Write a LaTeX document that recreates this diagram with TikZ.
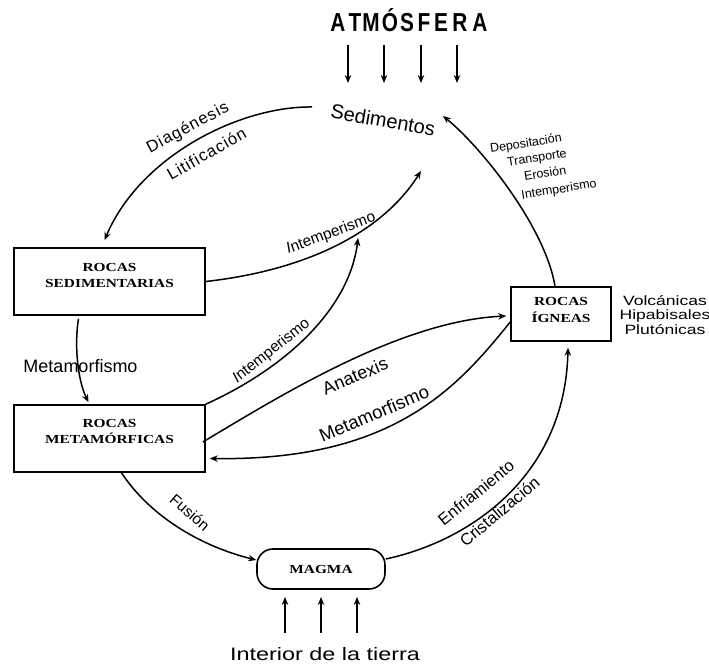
\documentclass[tikz,border=0pt]{standalone}
\usepackage{fontspec}
\setmainfont{Liberation Sans}
\newfontfamily\sfw[FakeStretch=1.3]{Liberation Sans}
\newfontfamily\sfsp[LetterSpace=6]{Liberation Sans}
\newfontfamily\boxf[FakeStretch=1.25]{Liberation Serif}
\newfontfamily\atmf[FakeStretch=0.8]{Liberation Sans}
\usetikzlibrary{arrows.meta}
\begin{document}
\begin{tikzpicture}[x=1pt,y=1pt,
  rockbox/.style={draw, line width=1.6pt, minimum width=191pt, minimum height=67pt, inner sep=0pt},
  boxtxt/.style={align=center, inner sep=0pt, font=\boxf\bfseries\fontsize{12.3}{16.5}\selectfont},
  conn/.style={line width=1.5pt, -{Stealth[length=8pt,width=6.5pt]}},
  lbl/.style={inner sep=0pt},
  atm/.style={inner sep=0pt, anchor=base, font=\atmf\bfseries\fontsize{26}{26}\selectfont}
]
\useasboundingbox (0,0) rectangle (709,666);

% Rock boxes
\node[rockbox] (sed) at (109.5,384.5) {};
\node[boxtxt] (sedt) at ([yshift=6pt]sed.center) {ROCAS\\SEDIMENTARIAS};
\node[rockbox] (met) at (109.5,227.5) {};
\node[boxtxt] (mett) at ([yshift=7pt]met.center) {ROCAS\\METAMÓRFICAS};
\node[rockbox, minimum width=100pt, minimum height=54pt] (ign) at (561,352) {};
\node[boxtxt] (ignt) at ([yshift=4pt]ign.center) {ROCAS\\ÍGNEAS};
\node[draw, line width=1.6pt, rounded corners=16pt, minimum width=128pt, minimum height=40pt,
  font=\boxf\bfseries\fontsize{12.3}{15}\selectfont] (magma) at (321,97) {MAGMA};

% Sedimentos
\node[lbl, rotate=-10, font=\fontsize{20}{20}\selectfont] (sedi) at (383,546) {Sedimentos};

% Atmosfera
\node[atm] (a1) at (338,634) {A};
\node[atm] (a2) at (355,634) {T};
\node[atm] (a3) at (371,634) {M};
\node[atm] (a4) at (390,634) {Ó};
\node[atm] (a5) at (407,634) {S};
\node[atm] (a6) at (424,634) {F};
\node[atm] (a7) at (441,634) {E};
\node[atm] (a8) at (460,634) {R};
\node[atm] (a9) at (480,634) {A};
\foreach \i/\x in {1/348,2/384,3/421,4/457}{
  \coordinate (at\i) at (\x,621);
  \coordinate (ab\i) at (\x,583);
  \draw[conn] (at\i) -- (ab\i);
}

% Interior de la tierra
\node[lbl, anchor=base, font=\sfw\fontsize{18}{18}\selectfont] (inter) at (325,5) {Interior de la tierra};
\foreach \i/\x in {1/285,2/321,3/357}{
  \coordinate (mb\i) at (\x,33);
  \coordinate (mt\i) at (\x,69);
  \draw[conn] (mb\i) -- (mt\i);
}

% Igneous types
\node[lbl, align=center, font=\sfw\fontsize{13.5}{14.5}\selectfont] (types) at (665,351) {Volcánicas\\Hipabisales\\Plutónicas};

% Connector end points near Sedimentos
\coordinate (sedL) at (312,559);
\coordinate (sedR) at (443,550);
\coordinate (sedB1) at (421,495);
\coordinate (sedB2) at (358,428);

% Diagenesis
\draw[conn] (sedL) .. controls (240,560) and (140,510) .. ([xshift=-5pt,yshift=7pt]sed.north);
\node[lbl, rotate=28, font=\sfsp\fontsize{16.5}{16.5}\selectfont] (diag) at (188,538) {Diagénesis};
\node[lbl, rotate=29.5, font=\sfsp\fontsize{16.5}{16.5}\selectfont] (liti) at (206.5,512.5) {Litificación};

% Igneas -> Sedimentos
\draw[conn] ([xshift=-6pt]ign.north) .. controls (545,440) and (480,520) .. (sedR);
\node[lbl, rotate=9, font=\fontsize{12.5}{12.5}\selectfont] (dep) at (526,522) {Depositación};
\node[lbl, rotate=9, font=\fontsize{12.5}{12.5}\selectfont] (tra) at (537,507) {Transporte};
\node[lbl, rotate=9, font=\fontsize{12.5}{12.5}\selectfont] (ero) at (545,493) {Erosión};
\node[lbl, rotate=9, font=\fontsize{12.5}{12.5}\selectfont] (int0) at (559,476) {Intemperismo};

% Sed -> Sedimentos
\draw[conn] (sed.east) .. controls (300,395) and (380,430) .. (sedB1);
\node[lbl, rotate=20.6, font=\fontsize{15.5}{15.5}\selectfont] (int1) at (331,432.5) {{\itshape I}ntemperismo};

% Met -> Sedimentos
\draw[conn] (met.north east) .. controls (290,300) and (350,360) .. (sedB2);
\node[lbl, rotate=38.5, font=\fontsize{15.5}{15.5}\selectfont] (int2) at (271.5,315) {{\itshape I}ntemperismo};

% Sed -> Met
\draw[conn] ([xshift=-31pt,yshift=-3pt]sed.south) .. controls (74,320) and (78,285) .. ([xshift=-21pt,yshift=2pt]met.north);
\node[lbl, anchor=base, font=\fontsize{18}{18}\selectfont] (meta1) at (80.5,293) {Metamorfismo};

% Anatexis
\draw[conn] ([xshift=-3pt,yshift=-3.5pt]met.east) .. controls (280,270) and (400,345) .. ([xshift=-4pt,yshift=-2pt]ign.west);
\node[lbl, rotate=23, font=\fontsize{18}{18}\selectfont] (anat) at (355,290) {Anatexis};

% Ign -> Met (Metamorfismo)
\draw[conn] ([yshift=-8pt]ign.west) .. controls (455,275) and (390,205) .. ([xshift=4pt,yshift=-20pt]met.east);
\node[lbl, rotate=22.8, font=\fontsize{18.5}{18.5}\selectfont] (meta2) at (374,252.5) {Metamorfismo};

% Fusion
\draw[conn] ([xshift=12pt]met.south) .. controls (150,150) and (200,120) .. ([yshift=9pt]magma.west);
\node[lbl, rotate=-40.7, font=\fontsize{15.5}{15.5}\selectfont] (fus) at (190,153.5) {Fusión};

% Enfriamiento
\draw[conn] ([yshift=10pt]magma.east) .. controls (470,125) and (565,190) .. ([xshift=7pt,yshift=-6pt]ign.south);
\node[lbl, rotate=39.3, font=\fontsize{16.5}{16.5}\selectfont] (enf) at (476,173.5) {Enfriamiento};
\node[lbl, rotate=40, font=\fontsize{16.5}{16.5}\selectfont] (cri) at (499.5,154.5) {Cristalización};
\end{tikzpicture}
\end{document}
